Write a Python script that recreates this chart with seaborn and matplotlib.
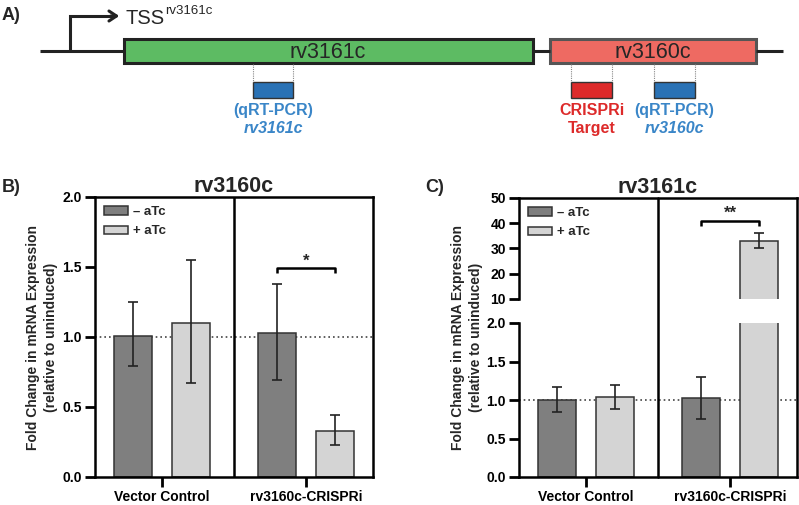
import pandas as pd
import matplotlib
matplotlib.use("Agg")
import matplotlib.pyplot as plt
from matplotlib.patches import Rectangle, Patch
from matplotlib.lines import Line2D
from matplotlib.ticker import FormatStrFormatter
import matplotlib.transforms as mtransforms
import seaborn as sns

# Data
groups = ["Vector Control", "rv3160c-CRISPRi"]
treatments = ["\u2013 aTc", "+ aTc"]

# rv3160c expression (panel B), order: VC -, VC +, CRISPRi -, CRISPRi +
b_mean = [1.01, 1.10, 1.03, 0.33]
b_low = [0.79, 0.67, 0.69, 0.23]
b_high = [1.25, 1.55, 1.38, 0.44]

# rv3161c expression (panel C)
c_mean = [1.00, 1.04, 1.02, 33.0]
c_low = [0.85, 0.88, 0.75, 30.3]
c_high = [1.17, 1.20, 1.30, 36.2]

dark = "#7f7f7f"
light = "#d4d4d4"

sns.set_theme(style="ticks")
plt.rcParams["font.family"] = ["Liberation Sans", "DejaVu Sans"]
plt.rcParams["font.weight"] = "bold"
plt.rcParams["axes.linewidth"] = 1.8

fig = plt.figure(figsize=(7.99, 5.05), dpi=100)
W, H = 799, 505


def frac_box(x0, x1, ytop, ybot):
    return [x0 / W, 1 - ybot / H, (x1 - x0) / W, (ybot - ytop) / H]


def draw_bars(ax, means, low, high):
    df = pd.DataFrame({
        "group": [g for g in groups for _ in treatments],
        "treatment": treatments * len(groups),
        "value": means,
    })
    sns.barplot(data=df, x="group", y="value", hue="treatment",
                palette=[dark, light], edgecolor="#333333", linewidth=1.1,
                gap=0.34, errorbar=None, legend=False, ax=ax, zorder=2)
    bars = sorted(ax.patches, key=lambda p: p.get_x())
    xs = [p.get_x() + p.get_width() / 2 for p in bars]
    yerr = [[m - l for m, l in zip(means, low)], [h - m for m, h in zip(means, high)]]
    ax.errorbar(xs, means, yerr=yerr, fmt="none", ecolor="#222222",
                elinewidth=1.2, capsize=3.6, capthick=1.2, zorder=3)
    ax.set_xlim(-0.465, 1.465)
    ax.set_xlabel("")
    ax.set_ylabel("")
    ax.axhline(1.0, color="#444444", ls=(0, (1, 1.8)), lw=1.2, zorder=1)
    for s in ax.spines.values():
        s.set_linewidth(1.8)
        s.set_color("black")
    return xs


def style_ticks(ax):
    ax.tick_params(left=True, bottom=True, width=2.0, length=7.5,
                   direction="out", color="black", labelcolor="black", pad=2)
    for lab in ax.get_xticklabels() + ax.get_yticklabels():
        lab.set_fontweight("bold")
        lab.set_fontsize(10)


def bracket(ax, x0, x1, y, h, label):
    ax.plot([x0, x0, x1, x1], [y - h, y, y, y - h], color="black", lw=1.8,
            solid_capstyle="butt", clip_on=False)
    ax.text((x0 + x1) / 2, y, label, ha="center", va="bottom", fontsize=12,
            fontweight="bold")


def add_legend(ax):
    handles = [Patch(facecolor=c, edgecolor="#333333", linewidth=1.1, label=t)
               for c, t in zip([dark, light], treatments)]
    ax.legend(handles=handles, loc="upper left", frameon=False,
              prop={"weight": "bold", "size": 9.5}, handlelength=1.8,
              handleheight=0.6, handletextpad=0.35, borderaxespad=0.3,
              labelspacing=0.55)


ylabel = "Fold Change in mRNA Expression\n(relative to uninduced)"

# Panel A: gene diagram
axA = fig.add_axes([0, 1 - 165 / H, 1, 165 / H])
axA.set_xlim(0, W)
axA.set_ylim(165, 0)
axA.axis("off")
line_kw = dict(color="#222222", lw=2.2, solid_capstyle="butt")
axA.plot([40, 124], [51, 51], **line_kw)
axA.plot([533, 550], [51, 51], **line_kw)
axA.plot([756, 783], [51, 51], **line_kw)
axA.add_patch(Rectangle((124, 39), 409, 24, fc="#5dbb63", ec="#222222", lw=2.2))
axA.add_patch(Rectangle((550, 39), 206, 24, fc="#ee6a62", ec="#555555", lw=2.2))
axA.text(328, 52, "rv3161c", ha="center", va="center", fontsize=15.5, fontweight="normal")
axA.text(653, 52, "rv3160c", ha="center", va="center", fontsize=15.5, fontweight="normal")
axA.plot([70, 70, 112], [51, 16, 16], color="#222222", lw=2.2, solid_joinstyle="miter")
axA.annotate("", xy=(122, 16), xytext=(108, 16),
             arrowprops=dict(arrowstyle="->,head_length=0.45,head_width=0.3",
                             color="#222222", lw=2.2))
axA.text(125, 18, "TSS", ha="left", va="center", fontsize=14.5, fontweight="normal")
axA.text(165, 11, "rv3161c", ha="left", va="center", fontsize=9.5, fontweight="normal")

probes = [(253, 293, "#2a72b5", "(qRT-PCR)", "rv3161c", "#3a86c8"),
          (571, 612, "#dd2a2a", "CRISPRi", "Target", "#dd2a2a"),
          (654, 695, "#2a72b5", "(qRT-PCR)", "rv3160c", "#3a86c8")]
for x0, x1, fc, t1, t2, tc in probes:
    for xx in (x0, x1):
        axA.plot([xx, xx], [64, 82], color="#888888", lw=0.8, ls=(0, (1, 1)))
    axA.add_patch(Rectangle((x0, 82), x1 - x0, 16, fc=fc, ec="#333333", lw=1.0))
    xc = (x0 + x1) / 2
    axA.text(xc, 110, t1, ha="center", va="center", fontsize=11.5, color=tc)
    axA.text(xc, 128, t2, ha="center", va="center", fontsize=11.5, color=tc,
             style="italic" if t2.startswith("rv") else "normal")

# Panel B
axB = fig.add_axes(frac_box(95, 373, 197, 477))
xs_b = draw_bars(axB, b_mean, b_low, b_high)
axB.set_ylim(0, 2.0)
axB.set_yticks([0, 0.5, 1.0, 1.5, 2.0])
axB.yaxis.set_major_formatter(FormatStrFormatter("%.1f"))
axB.axvline(0.5, color="black", lw=1.8)
axB.set_title("rv3160c", fontsize=15.5, fontweight="bold", pad=3)
bracket(axB, xs_b[2], xs_b[3], 1.49, 0.03, "*")
add_legend(axB)
style_ticks(axB)

# Panel C: broken y axis
axCl = fig.add_axes(frac_box(519, 797, 323, 477))
axCu = fig.add_axes(frac_box(519, 797, 198, 299))
xs_c = draw_bars(axCl, c_mean, c_low, c_high)
draw_bars(axCu, c_mean, c_low, c_high)
axCl.set_ylim(0, 2.0)
axCl.set_yticks([0, 0.5, 1.0, 1.5, 2.0])
axCl.yaxis.set_major_formatter(FormatStrFormatter("%.1f"))
axCu.set_ylim(10, 50)
axCu.set_yticks([10, 20, 30, 40, 50])
axCl.spines["top"].set_visible(False)
axCl.spines["right"].set_visible(False)
axCu.spines["bottom"].set_visible(False)
axCu.spines["right"].set_visible(False)
style_ticks(axCl)
style_ticks(axCu)
axCu.tick_params(bottom=False, labelbottom=False)
axCu.set_title("rv3161c", fontsize=15.5, fontweight="bold", pad=3)
bracket(axCu, xs_c[2], xs_c[3], 41, 2, "**")
add_legend(axCu)

# continuous divider and right spine across the break
bot = 1 - 477 / H
top = 1 - 198 / H
trans = mtransforms.blended_transform_factory(axCl.transData, fig.transFigure)
fig.add_artist(Line2D([0.5, 0.5], [bot, top], transform=trans, color="black", lw=1.8))
fig.add_artist(Line2D([797 / W, 797 / W], [bot, top], transform=fig.transFigure,
                      color="black", lw=1.8, solid_capstyle="projecting"))

for xc in (42, 467):
    fig.text(xc / W, 1 - 337 / H, ylabel, rotation=90, ha="center", va="center",
             fontsize=10, fontweight="bold", multialignment="center",
             linespacing=1.3)

fig.text(2 / W, 1 - 15 / H, "A)", fontsize=13, fontweight="bold", va="center")
fig.text(2 / W, 1 - 188 / H, "B)", fontsize=13, fontweight="bold", va="center")
fig.text(425 / W, 1 - 188 / H, "C)", fontsize=13, fontweight="bold", va="center")

fig.savefig("out.png", dpi=100)
